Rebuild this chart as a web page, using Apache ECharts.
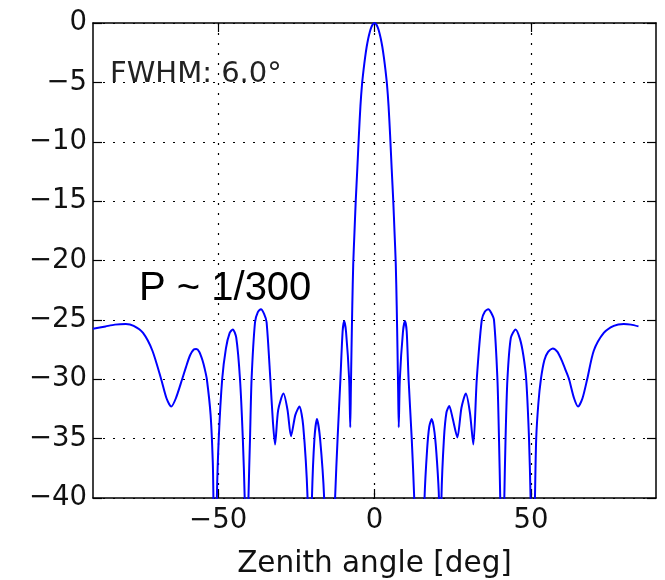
<!DOCTYPE html>
<html>
<head>
<meta charset="utf-8">
<script src="https://cdn.jsdelivr.net/npm/echarts@6/dist/echarts.min.js"></script>
<style>
  html, body { margin: 0; padding: 0; background: #fff; }
  #chart { width: 665px; height: 580px; }
</style>
</head>
<body>
<div id="chart"></div>
<script>
// Beam pattern: gain in dB versus zenith angle in degrees
const angle = [
  -90, -86, -83, -79.5, -77, -74, -71, -68.2, -66.5, -65.0, -63.5, -61.5, -60.3, -59.0,
  -57.8, -57.0, -56.0, -55.0, -54.3, -53.6, -52.4, -51.7, -51.5, -51.0, -50.4, -49.8,
  -48.7, -47.5, -46.3, -45.3, -44.2, -43.0, -42.1, -41.5, -40.9, -40.3, -39.8, -39.3,
  -38.2, -37.3, -36.3, -35.3, -34.5, -33.3, -32.5, -31.8, -30.8, -29.1, -27.8, -26.7,
  -25.3, -24.0, -22.8, -21.4, -20.7, -20.0, -19.2, -18.4, -17.4, -16.1, -14.3, -12.6,
  -11.8, -10.9, -10.2, -9.7, -9.1, -8.1, -7.75, -7.55, -7.35, -7.1, -6.8, -6.4, -6.0,
  -5.5, -5.0, -4.5, -4.0, -3.5, -3.0, -2.5, -2.0, -1.5, -1.0, -0.5,
  0,
  0.5, 1.0, 1.5, 2.0, 2.5, 3.0, 3.5, 4.0, 4.5, 5.0, 5.5, 6.0, 6.4, 6.8, 7.1, 7.35, 7.55,
  7.75, 8.1, 9.1, 9.75, 10.3, 10.9, 11.9, 12.7, 14.4, 16.0, 16.8, 17.5, 18.3, 19.2, 20.0,
  20.6, 21.0, 21.4, 22.2, 23.0, 23.9, 25.0, 26.5, 27.8, 29.2, 30.5, 31.6, 32.7, 34.3,
  35.3, 36.4, 37.3, 38.2, 39.3, 39.8, 40.2, 40.9, 41.5, 41.9, 42.5, 43.6, 45.1, 46.5,
  47.6, 48.5, 49.4, 49.9, 50.6, 51.3, 51.7, 52.4, 53.2, 54.3, 55.5, 57.0, 58.5, 60.0,
  61.2, 62.2, 63.8, 65.1, 66.5, 68.0, 70.1, 73.3, 76.5, 79.7, 82.0, 84.4
];
const gain = [
  -25.75, -25.55, -25.4, -25.35, -25.5, -26.1, -27.6, -30.0, -31.6, -32.3, -31.6, -30.0, -29.0, -28.0,
  -27.5, -27.45, -27.7, -28.4, -29.1, -30.0, -33.0, -37.0, -40, -50, -40, -35,
  -30, -27.4, -26.1, -25.8, -26.5, -30.0, -35, -40, -50, -40, -35, -30,
  -25.2, -24.35, -24.1, -24.5, -25.2, -30, -33.5, -35.5, -32.6, -31.2, -32.6, -34.8,
  -33.0, -32.3, -33.9, -40, -50, -40, -35, -33.35, -35, -40, -55, -40,
  -35, -30, -26, -25.1, -26, -30, -34.05, -30.8, -27.5, -23.8, -20.3, -17.6, -15,
  -12.3, -9.5, -7.0, -5.2, -3.95, -2.9, -2.0, -1.3, -0.75, -0.35, -0.1,
  0,
  -0.1, -0.35, -0.75, -1.3, -2.0, -2.9, -3.95, -5.2, -7.0, -9.5, -12.3, -15, -17.6, -20.3, -23.8, -27.5, -30.8,
  -34.05, -30, -26, -25.1, -26, -30, -35, -40, -55, -40, -36, -34, -33.35, -34.5, -37,
  -40, -50, -40, -35, -32.8, -32.25, -33.3, -34.9, -32.4, -31.2, -32.8, -35.5, -30, -25,
  -24.3, -24.1, -24.4, -25, -30, -35, -40, -50, -40, -35, -30, -26.5, -25.8, -26.6,
  -28, -30, -35, -40, -50, -40, -35, -32, -30, -28.4, -27.7, -27.4, -27.7, -28.5,
  -29.3, -30, -31.6, -32.3, -31.6, -30, -27.6, -26.1, -25.5, -25.35, -25.4, -25.55
];
const xTicks = [-50, 0, 50];
const fwhmText = 'FWHM: 6.0\u00b0';
const noteText = 'P ~ 1/300';
const xTitle = 'Zenith angle [deg]';

const minus = v => String(v).replace('-', '\u2212');
const tickFont = 'DejaVu Sans';
const ink = '#111';

const frameLine = { show: true, onZero: false, lineStyle: { color: '#000', width: 1.5 } };
const innerTick = { show: true, inside: true, length: 9, lineStyle: { color: '#000', width: 1.2 } };
const dotted = { show: true, lineStyle: { color: '#000', width: 1.2, type: [2, 8] } };

const chart = echarts.init(document.getElementById('chart'), null, { renderer: 'canvas' });
chart.setOption({
  animation: false,
  backgroundColor: '#fff',
  grid: { left: 93, right: 9, top: 23, bottom: 82, containLabel: false, outerBoundsMode: 'none' },
  xAxis: [
    {
      type: 'value', position: 'bottom', min: -90, max: 90,
      axisLine: frameLine,
      axisTick: Object.assign({ customValues: xTicks }, innerTick),
      axisLabel: { customValues: xTicks, formatter: minus, fontFamily: tickFont, fontSize: 27.5, color: ink, margin: 9 },
      splitLine: dotted,
      name: xTitle, nameLocation: 'middle', nameGap: 51,
      nameTextStyle: { fontFamily: tickFont, fontSize: 29.5, color: ink }
    },
    {
      type: 'value', position: 'top', min: -90, max: 90,
      axisLine: frameLine,
      axisTick: Object.assign({ customValues: xTicks }, innerTick),
      axisLabel: { show: false, customValues: xTicks },
      splitLine: { show: false }
    }
  ],
  yAxis: [
    {
      type: 'value', position: 'left', min: -40, max: 0, interval: 5,
      axisLine: frameLine,
      axisTick: innerTick,
      axisLabel: { formatter: minus, fontFamily: tickFont, fontSize: 27.5, color: ink, margin: 6 },
      splitLine: dotted
    },
    {
      type: 'value', position: 'right', min: -40, max: 0, interval: 5,
      axisLine: frameLine,
      axisTick: innerTick,
      axisLabel: { show: false },
      splitLine: { show: false }
    }
  ],
  series: [{
    type: 'line',
    data: angle.map((a, i) => [a, gain[i]]),
    showSymbol: false,
    smooth: 0.25,
    clip: true,
    lineStyle: { color: '#0000ff', width: 2 },
    z: 5
  }],
  graphic: [
    {
      type: 'text', left: 110, top: 60, z: 10,
      style: { text: fwhmText, fontFamily: tickFont, fontSize: 29, fill: '#222' }
    },
    {
      type: 'text', left: 139, top: 269, z: 10,
      style: { text: noteText, fontFamily: 'Liberation Sans', fontSize: 40, fill: '#000' }
    }
  ]
});
</script>
</body>
</html>
